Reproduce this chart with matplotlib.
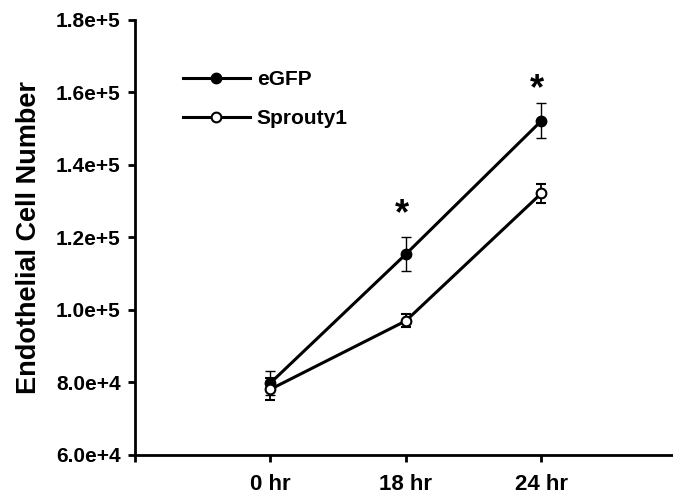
import matplotlib
matplotlib.use('Agg')
import matplotlib.pyplot as plt
from matplotlib.lines import Line2D
import numpy as np

# time points and cell counts
time_labels = ['0 hr', '18 hr', '24 hr']
egfp_mean = [79800, 115400, 152200]
egfp_err = [3300, 4700, 4800]
sprouty_mean = [78100, 97000, 132200]
sprouty_err = [3000, 1800, 2600]
star_idx = [1, 2]
star_y = [126300, 160800]

plt.rcParams['font.family'] = ['Liberation Sans', 'DejaVu Sans']
plt.rcParams['font.weight'] = 'bold'

fig = plt.figure(figsize=(6.73, 4.96), dpi=100)
ax = fig.add_axes([0.2, 0.0827, 0.8, 0.877])

x = np.arange(1, len(time_labels) + 1)

ax.errorbar(x, egfp_mean, yerr=egfp_err, color='black', lw=2.2, marker='o',
            ms=7.5, mfc='black', mec='black', ecolor='black', elinewidth=1,
            capsize=3.5, capthick=1)
ax.errorbar(x, sprouty_mean, yerr=sprouty_err, color='black', lw=2.2, marker='o',
            ms=7, mfc='white', mec='black', mew=1.5, ecolor='black', elinewidth=1.3,
            capsize=3.5, capthick=1.5)

for i, yv in zip(star_idx, star_y):
    ax.text(x[i] - 0.03, yv, '*', ha='center', va='center', fontsize=26, fontweight='bold')

ax.set_xlim(0, 3.97)
ax.set_ylim(60000, 180000)
ax.set_xticks([0, 1, 2, 3])
ax.set_xticklabels([''] + time_labels)
yt = np.arange(60000, 180001, 20000)
ax.set_yticks(yt)
ax.set_yticklabels(['%.1fe+%d' % (v / 10 ** int(np.log10(v)), int(np.log10(v))) for v in yt])

for s in ['top', 'right']:
    ax.spines[s].set_visible(False)
for s in ['left', 'bottom']:
    ax.spines[s].set_linewidth(2)

ax.tick_params(axis='both', direction='out', length=5, width=2)
ax.tick_params(axis='x', pad=9, labelsize=16)
ax.tick_params(axis='y', pad=5, labelsize=15)

ax.set_ylabel('Endothelial Cell Number', fontsize=19.5, fontweight='bold', labelpad=10)

handles = [
    Line2D([], [], color='black', lw=2.2, marker='o', ms=7.5, mfc='black', mec='black'),
    Line2D([], [], color='black', lw=2.2, marker='o', ms=7, mfc='white', mec='black', mew=1.5),
]
ax.legend(handles, ['eGFP', 'Sprouty1'], loc='upper left', bbox_to_anchor=(0.055, 0.928),
          frameon=False, fontsize=15, handlelength=3.2, handletextpad=0.35, labelspacing=0.95)

fig.savefig('out.png', dpi=100)
